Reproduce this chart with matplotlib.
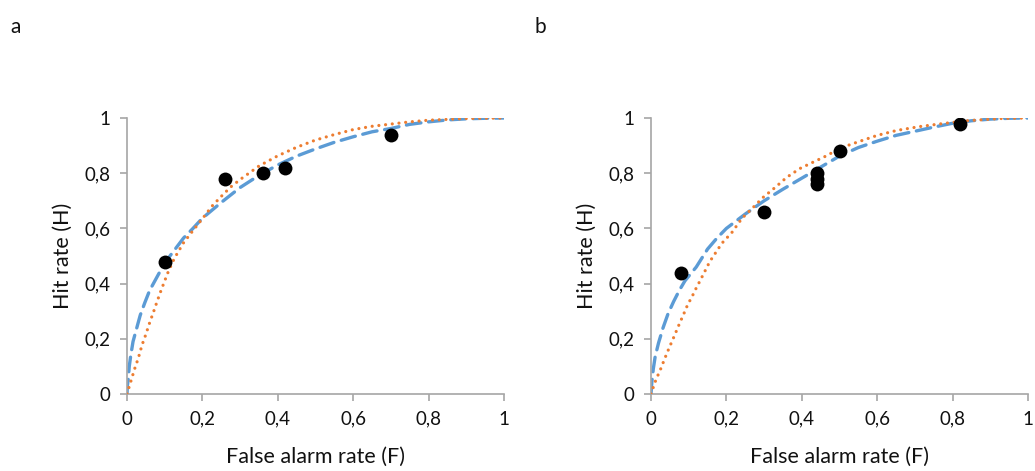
import matplotlib
matplotlib.use("Agg")
import matplotlib.pyplot as plt

plt.rcParams['font.family'] = ['Lato', 'DejaVu Sans']

# ---- data ----
tick_vals = [0, 0.2, 0.4, 0.6, 0.8, 1.0]
tick_labels = ["0", "0,2", "0,4", "0,6", "0,8", "1"]

# Panel a
a_obs_F = [0.10, 0.26, 0.36, 0.42, 0.70]
a_obs_H = [0.48, 0.78, 0.80, 0.82, 0.94]

a_blue_F = [0, 0.001, 0.003, 0.006, 0.01, 0.016, 0.025, 0.035, 0.047, 0.06, 0.076,
            0.1, 0.125, 0.15, 0.175, 0.2, 0.25, 0.3, 0.35, 0.4, 0.45, 0.5, 0.55,
            0.6, 0.65, 0.7, 0.75, 0.8, 0.85, 0.9, 0.95, 1.0]
a_blue_H = [0, 0.03, 0.05, 0.10, 0.14, 0.19, 0.235, 0.285, 0.33, 0.375, 0.415,
            0.475, 0.52, 0.565, 0.60, 0.637, 0.694, 0.748, 0.792, 0.83, 0.862, 0.888, 0.912,
            0.932, 0.95, 0.962, 0.977, 0.986, 0.993, 0.997, 0.999, 1.0]

a_orange_F = [0, 0.01, 0.02, 0.03, 0.04, 0.05, 0.06, 0.07, 0.08, 0.09, 0.10, 0.11,
              0.125, 0.15, 0.175, 0.2, 0.225, 0.25, 0.275, 0.3, 0.35, 0.4, 0.45, 0.5,
              0.55, 0.6, 0.65, 0.7, 0.75, 0.8, 0.85, 0.9, 1.0]
a_orange_H = [0, 0.045, 0.09, 0.13, 0.178, 0.216, 0.258, 0.296, 0.336, 0.374, 0.41, 0.445,
              0.49, 0.548, 0.592, 0.635, 0.68, 0.716, 0.75, 0.777, 0.826, 0.863, 0.894, 0.92,
              0.94, 0.958, 0.97, 0.978, 0.986, 0.992, 0.995, 0.998, 1.0]

# Panel b
b_obs_F = [0.08, 0.30, 0.44, 0.44, 0.44, 0.50, 0.82]
b_obs_H = [0.44, 0.66, 0.80, 0.78, 0.76, 0.88, 0.98]

b_blue_F = [0, 0.002, 0.006, 0.011, 0.02, 0.032, 0.045, 0.06, 0.075, 0.09, 0.12, 0.15,
            0.175, 0.2, 0.25, 0.3, 0.35, 0.4, 0.45, 0.5, 0.55, 0.6, 0.65, 0.7, 0.75,
            0.8, 0.85, 0.9, 0.95, 1.0]
b_blue_H = [0, 0.04, 0.09, 0.135, 0.185, 0.24, 0.29, 0.335, 0.375, 0.41, 0.46, 0.525,
            0.565, 0.60, 0.652, 0.70, 0.742, 0.782, 0.822, 0.862, 0.893, 0.916, 0.937, 0.952, 0.967,
            0.981, 0.99, 0.996, 0.999, 1.0]

b_orange_F = [0, 0.005, 0.011, 0.019, 0.027, 0.034, 0.042, 0.05, 0.058, 0.066, 0.074,
              0.082, 0.09, 0.098, 0.108, 0.117, 0.13, 0.156, 0.188, 0.215, 0.241, 0.268,
              0.297, 0.329, 0.36, 0.395, 0.43, 0.467, 0.50, 0.546, 0.6, 0.652, 0.713,
              0.775, 0.838, 0.926, 1.0]
b_orange_H = [0, 0.02, 0.044, 0.07, 0.095, 0.12, 0.147, 0.173, 0.198, 0.224, 0.25,
              0.275, 0.30, 0.326, 0.35, 0.376, 0.41, 0.48, 0.546, 0.586, 0.636, 0.672,
              0.712, 0.748, 0.785, 0.817, 0.84, 0.864, 0.89, 0.912, 0.937, 0.955, 0.969,
              0.98, 0.99, 0.998, 1.0]

panels = [
    ("a", a_obs_F, a_obs_H, a_blue_F, a_blue_H, a_orange_F, a_orange_H),
    ("b", b_obs_F, b_obs_H, b_blue_F, b_blue_H, b_orange_F, b_orange_H),
]

BLUE = "#5B9BD5"
ORANGE = "#ED7D31"
GRAY = "#A6A6A6"
TXT = "#111111"

fig = plt.figure(figsize=(10.35, 4.71), dpi=100)
lefts = [127 / 1035, 651 / 1035]
letter_x = [10 / 1035, 534 / 1035]
W = 377 / 1035
B = 77 / 471
H = 276 / 471

for i, (letter, oF, oH, bF, bH, rF, rH) in enumerate(panels):
    ax = fig.add_axes([lefts[i], B, W, H])
    ax.plot(bF, bH, color=BLUE, lw=2.4, dashes=(4.4, 2.3), dash_capstyle='round', zorder=2)
    ax.plot(rF, rH, color=ORANGE, lw=2.3, dashes=(0.01, 2.1), dash_capstyle='round', zorder=3)
    ax.scatter(oF, oH, s=100, color="black", zorder=4, linewidths=0)
    ax.set_xlim(0, 1)
    ax.set_ylim(0, 1)
    ax.set_xticks(tick_vals)
    ax.set_xticklabels(tick_labels)
    ax.set_yticks(tick_vals)
    ax.set_yticklabels(tick_labels)
    for s in ["top", "right"]:
        ax.spines[s].set_visible(False)
    for s in ["left", "bottom"]:
        ax.spines[s].set_color(GRAY)
        ax.spines[s].set_linewidth(1.2)
    ax.tick_params(axis="both", direction="out", length=5, width=1.2, color=GRAY,
                   labelsize=13.5, labelcolor=TXT, pad=7)
    ax.tick_params(axis="y", pad=7)
    ax.set_xlabel("False alarm rate (F)", fontsize=15.5, color=TXT, labelpad=14)
    ax.set_ylabel("Hit rate (H)", fontsize=15.5, color=TXT, labelpad=8)
    ax.patch.set_alpha(0)
    fig.text(letter_x[i], 1 - 27 / 471, letter, fontsize=15, color=TXT,
             ha="left", va="center")

fig.savefig("out.png", dpi=100)
